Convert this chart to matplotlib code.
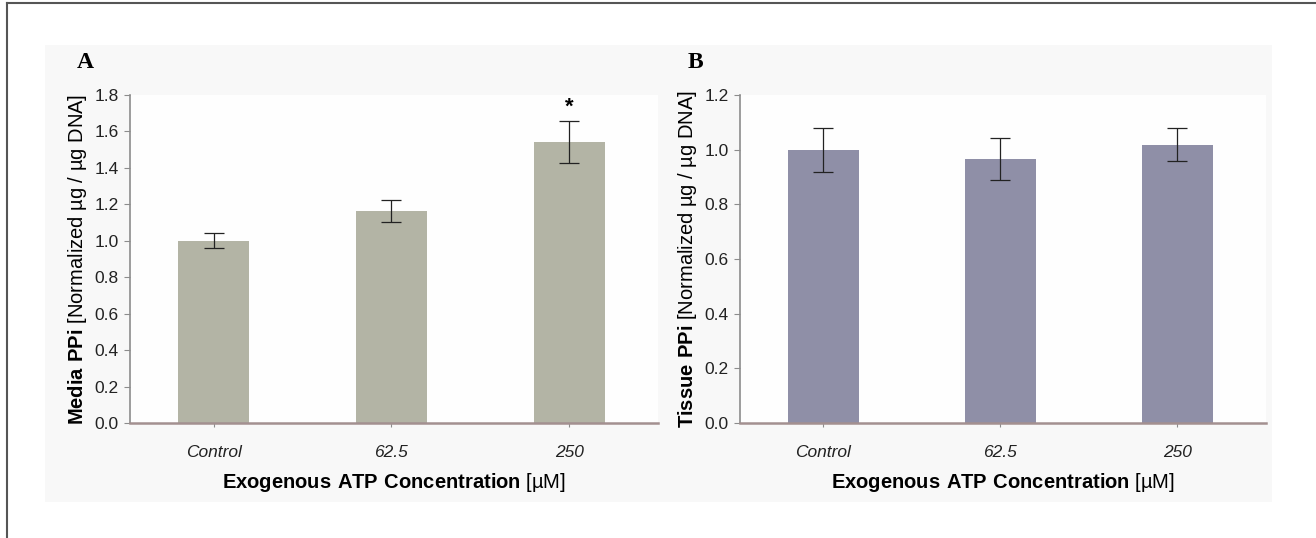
import matplotlib
matplotlib.use("Agg")
import matplotlib.pyplot as plt
from matplotlib.patches import Rectangle
from matplotlib.lines import Line2D
import numpy as np

plt.rcParams['font.family'] = ['Liberation Sans', 'DejaVu Sans']
plt.rcParams['mathtext.fontset'] = 'custom'
plt.rcParams['mathtext.rm'] = 'Liberation Sans'
plt.rcParams['mathtext.bf'] = 'Liberation Sans:bold'

# data
categories = ['Control', '62.5', '250']
media_ppi = [1.0, 1.165, 1.54]
media_err = [0.04, 0.06, 0.115]
tissue_ppi = [1.0, 0.966, 1.018]
tissue_err = [0.08, 0.077, 0.06]

W, H = 1316, 538
fig = plt.figure(figsize=(W / 100, H / 100), dpi=100)
fig.patch.set_facecolor('white')

# light grey panel behind both plots + frame lines of the page
fig.patches.append(Rectangle((45 / W, 1 - 502 / H), (1272 - 45) / W, (502 - 45) / H,
                             transform=fig.transFigure, facecolor='#f8f8f8',
                             edgecolor='none', zorder=-10))
fig.lines.append(Line2D([7 / W, 7 / W], [0, 1 - 3 / H], transform=fig.transFigure,
                        color='#555555', lw=1.5, zorder=-5))
fig.lines.append(Line2D([7 / W, 1], [1 - 3 / H, 1 - 3 / H], transform=fig.transFigure,
                        color='#555555', lw=1.5, zorder=-5))


def panel(rect, vals, errs, color, ymax, ylab, letter, star=None):
    ax = fig.add_axes(rect)
    ax.set_facecolor('#fefefe')
    x = np.arange(len(categories))
    ax.bar(x, vals, width=0.4, color=color, zorder=2)
    ax.errorbar(x, vals, yerr=errs, fmt='none', ecolor='#222222', elinewidth=0.9,
                capsize=7, capthick=0.9, zorder=3)
    ax.set_xlim(-0.47, 2.5)
    ax.set_ylim(0, ymax)
    ticks = np.arange(0, ymax + 0.01, 0.2)
    ax.set_yticks(ticks)
    ax.set_yticklabels(['%.1f' % v for v in ticks], fontsize=12.5, color='#222222')
    ax.set_xticks(x)
    ax.set_xticklabels(categories, fontsize=12.5, style='italic', color='#222222')
    for s in ['top', 'right']:
        ax.spines[s].set_visible(False)
    ax.spines['left'].set_color('#8c8c8c')
    ax.spines['left'].set_linewidth(1.2)
    ax.spines['bottom'].set_color('#a39090')
    ax.spines['bottom'].set_linewidth(1.8)
    ax.tick_params(axis='y', length=4, color='#8c8c8c', pad=4)
    ax.tick_params(axis='x', length=3, color='#8c8c8c', pad=13)
    ax.set_ylabel(ylab, fontsize=14.5, labelpad=4)
    ax.set_xlabel(r'$\bf{Exogenous\ ATP\ Concentration}$ [µM]', fontsize=14.5, labelpad=8)
    ax.text(-0.085, 1.1, letter, transform=ax.transAxes, fontsize=17, fontweight='bold',
            family='Liberation Serif', ha='center', va='center')
    if star is not None:
        ax.text(star, vals[star] + errs[star] + 0.08, '*', ha='center', va='center',
                fontsize=16, fontweight='bold')
    return ax


panel([130 / W, 1 - 423 / H, (658 - 130) / W, (423 - 95) / H], media_ppi, media_err,
      '#b3b4a5', 1.8, r'$\bf{Media\ PPi}$ [Normalized µg / µg DNA]', 'A', star=2)
panel([740 / W, 1 - 423 / H, (1266 - 740) / W, (423 - 95) / H], tissue_ppi, tissue_err,
      '#8f8fa7', 1.2, r'$\bf{Tissue\ PPi}$ [Normalized µg / µg DNA]', 'B')

fig.savefig('out.png', dpi=100)
